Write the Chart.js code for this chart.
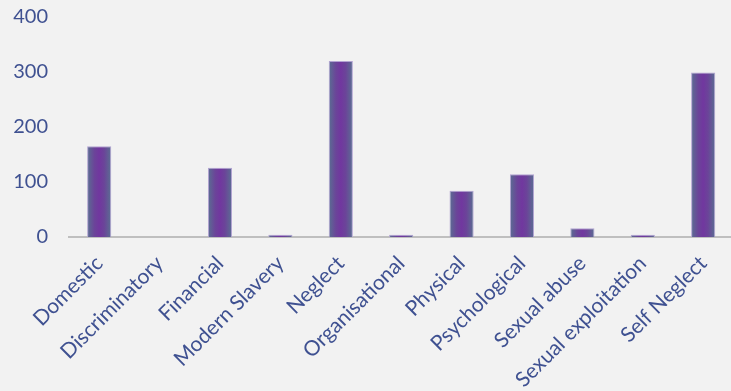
<!DOCTYPE html>
<html>
<head>
<meta charset="utf-8">
<script src="https://cdn.jsdelivr.net/npm/chart.js@4/dist/chart.umd.min.js"></script>
<style>
  html, body { margin: 0; padding: 0; background: #f2f2f2; overflow: hidden; }
  #wrap { width: 735px; height: 391px; }
</style>
</head>
<body>
<div id="wrap"><canvas id="c"></canvas></div>
<script>
// Safeguarding concerns by type of abuse
const categories = ['Domestic', 'Discriminatory', 'Financial', 'Modern Slavery', 'Neglect',
  'Organisational', 'Physical', 'Psychological', 'Sexual abuse', 'Sexual exploitation', 'Self Neglect'];
const counts = [165, 0, 126, 4, 320, 4, 84, 114, 16, 4, 299];
const yTicks = [0, 100, 200, 300, 400];

const textColor = '#3f5191';
const barFraction = 0.4;

// Horizontal shading across each bar: muted teal edges, purple centre
function barFill(ctx) {
  const chart = ctx.chart;
  const x = chart.scales.x;
  if (!x || ctx.dataIndex === undefined) return '#6e3a9c';
  const cx = x.getPixelForValue(ctx.dataIndex);
  const half = (x.right - x.left) / categories.length * barFraction / 2;
  if (!isFinite(cx) || !isFinite(half)) return '#6e3a9c';
  const g = chart.ctx.createLinearGradient(cx - half, 0, cx + half, 0);
  g.addColorStop(0, '#5a6f92');
  g.addColorStop(0.3, '#6b4499');
  g.addColorStop(0.5, '#71379f');
  g.addColorStop(0.7, '#6b4499');
  g.addColorStop(1, '#5a6f92');
  return g;
}

new Chart(document.getElementById('c'), {
  type: 'bar',
  data: {
    labels: categories,
    datasets: [{
      data: counts,
      backgroundColor: barFill,
      borderColor: '#b3a3d3',
      borderWidth: 1,
      categoryPercentage: 1,
      barPercentage: barFraction
    }]
  },
  options: {
    responsive: true,
    maintainAspectRatio: false,
    animation: false,
    layout: { padding: { top: 17, right: 0, bottom: 0, left: 0 } },
    plugins: { legend: { display: false }, tooltip: { enabled: false } },
    scales: {
      x: {
        grid: { display: false, drawTicks: false },
        border: { display: true, color: '#bfbfbf', width: 2 },
        ticks: {
          color: textColor,
          font: { family: 'Lato', size: 21 },
          maxRotation: 45,
          minRotation: 45,
          padding: 14,
          autoSkip: false
        },
        afterFit(scale) { scale.height = 154; }
      },
      y: {
        min: 0,
        max: 400,
        afterBuildTicks(scale) { scale.ticks = yTicks.map(v => ({ value: v })); },
        grid: { display: false, drawTicks: false },
        border: { display: false },
        ticks: {
          color: textColor,
          font: { family: 'Lato', size: 20 },
          padding: 21
        },
        afterFit(scale) {
          scale.width = 69;
          scale.paddingTop = 0;
          scale.paddingBottom = 0;
        }
      }
    }
  }
});
</script>
</body>
</html>
